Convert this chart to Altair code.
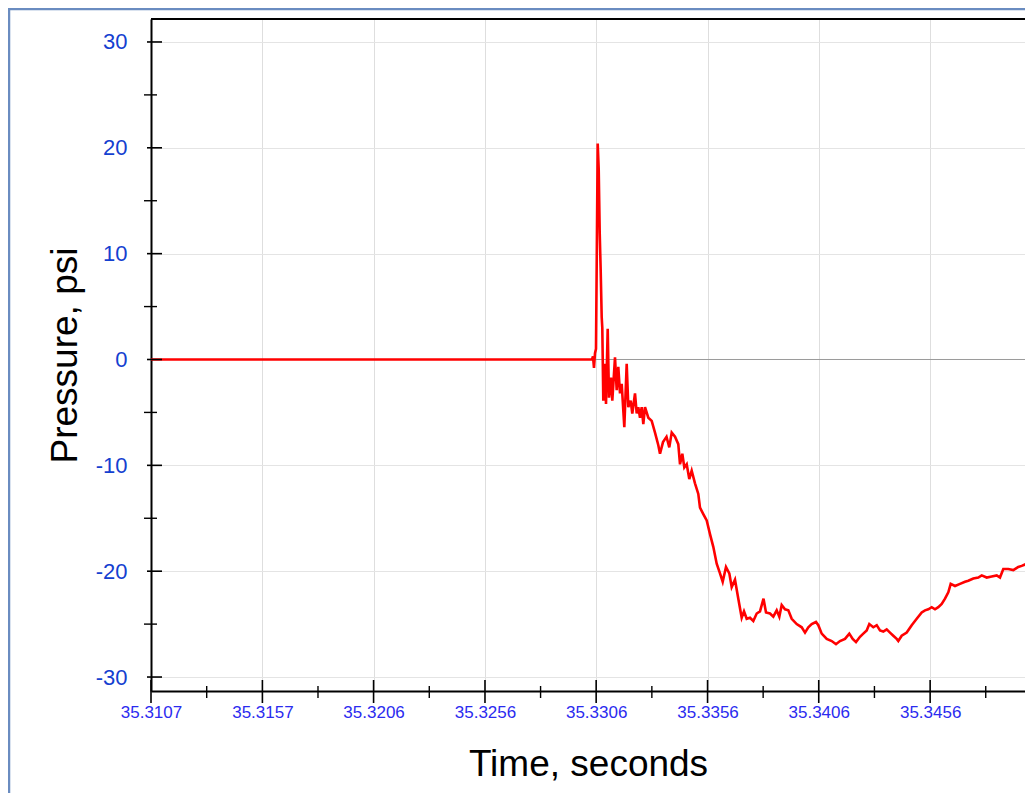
import altair as alt
import pandas as pd

# ---- data ----
time_s = [
    35.310670, 35.330424, 35.330468, 35.330513, 35.330558, 35.330603, 35.330679, 35.330724,
    35.330769, 35.330813, 35.330858, 35.330885, 35.330930, 35.331006, 35.331051, 35.331127,
    35.331185, 35.331275, 35.331333, 35.331454, 35.331530, 35.331602, 35.331678, 35.331754,
    35.331871, 35.331978, 35.332050, 35.332157, 35.332229, 35.332350, 35.332426, 35.332498,
    35.332574, 35.332650, 35.332722, 35.332798, 35.332946, 35.333098, 35.333246, 35.333394,
    35.333470, 35.333604, 35.333761, 35.333886, 35.333994, 35.334142, 35.334289, 35.334366,
    35.334469, 35.334559, 35.334666, 35.334782, 35.334889, 35.335037, 35.335185, 35.335261,
    35.335409, 35.335562, 35.335709, 35.335857, 35.336009, 35.336157, 35.336278, 35.336426,
    35.336574, 35.336681, 35.336829, 35.336977, 35.337129, 35.337232, 35.337353, 35.337501,
    35.337649, 35.337801, 35.337949, 35.338106, 35.338218, 35.338397, 35.338545, 35.338697,
    35.338814, 35.338921, 35.339069, 35.339217, 35.339369, 35.339593, 35.339817, 35.339965,
    35.340113, 35.340265, 35.340457, 35.340561, 35.340713, 35.340937, 35.341161, 35.341353,
    35.341532, 35.341756, 35.341949, 35.342101, 35.342249, 35.342428, 35.342576, 35.342728,
    35.342845, 35.343024, 35.343177, 35.343324, 35.343472, 35.343624, 35.343772, 35.343920,
    35.344072, 35.344144, 35.344296, 35.344520, 35.344744, 35.344968, 35.345192, 35.345340,
    35.345488, 35.345640, 35.345788, 35.345936, 35.346088, 35.346236, 35.346384, 35.346491,
    35.346684, 35.346908, 35.347132, 35.347279, 35.347503, 35.347727, 35.347880, 35.348104,
    35.348328, 35.348552, 35.348699, 35.348847, 35.349071, 35.349295, 35.349519, 35.349671,
    35.349895, 35.350119,
]
pressure_psi = [
    0.0, 0.0, 0.3, -0.8, 0.6, 1.0, 20.4, 18.0,
    12.0, 8.4, 4.0, 3.0, -3.9, -0.4, -4.2, 2.9,
    -3.6, -1.7, -3.9, 0.2, -2.9, -0.7, -3.2, -2.3,
    -6.4, -0.4, -4.5, -3.9, -5.1, -3.2, -5.1, -4.5,
    -5.5, -4.5, -6.1, -4.5, -5.5, -5.8, -6.9, -8.1,
    -8.9, -7.8, -7.3, -8.3, -6.9, -7.3, -8.0, -9.9,
    -8.9, -10.2, -9.9, -11.3, -10.5, -11.7, -12.7, -14.0,
    -14.6, -15.2, -16.5, -17.7, -19.3, -20.2, -21.0, -19.6,
    -20.2, -21.5, -20.8, -22.6, -24.4, -23.8, -24.5, -24.4,
    -24.7, -24.0, -23.8, -22.6, -23.9, -24.0, -24.3, -23.7,
    -24.3, -23.2, -23.6, -23.7, -24.5, -25.0, -25.3, -25.8,
    -25.3, -25.0, -24.8, -25.1, -25.9, -26.4, -26.6, -26.9,
    -26.6, -26.4, -25.9, -26.4, -26.7, -26.2, -25.9, -25.6,
    -25.0, -25.3, -25.1, -25.6, -25.7, -25.5, -25.8, -26.1,
    -26.4, -26.6, -26.1, -25.8, -25.1, -24.5, -23.9, -23.7,
    -23.6, -23.4, -23.6, -23.4, -23.1, -22.6, -22.0, -21.2,
    -21.4, -21.2, -21.0, -20.9, -20.7, -20.6, -20.4, -20.6,
    -20.5, -20.4, -20.6, -19.8, -19.8, -19.9, -19.6, -19.5,
    -19.3, -18.8,
]
x_major_ticks = [35.31067, 35.31566, 35.32064, 35.32563, 35.33061, 35.33560, 35.34058, 35.34557]
x_minor_ticks = [35.313165, 35.31815, 35.323135, 35.32812, 35.333105, 35.33809, 35.343075, 35.34806]
y_major_ticks = [-30, -20, -10, 0, 10, 20, 30]
y_minor_ticks = [-25, -15, -5, 5, 15, 25]

W, H = 874, 672
FONT = "Liberation Sans"

df = pd.DataFrame({"t": time_s, "p": pressure_psi})

X = alt.X(
    "t:Q",
    scale=alt.Scale(domain=[35.31067, 35.349819], nice=False, zero=False),
    axis=alt.Axis(
        values=x_major_ticks, format=".4f", title="Time, seconds",
        labelFont=FONT, labelFontSize=17, labelColor="#2b2bef",
        labelPadding=13, labelOverlap=False, labelFlush=False, labelBound=False,
        ticks=False, tickSize=0,
        domainColor="black", domainWidth=2,
        grid=True, gridColor="#dedede", gridWidth=1,
        titleFont=FONT, titleFontSize=37, titleFontWeight="normal",
        titleColor="black", titlePadding=26,
    ),
)
Y = alt.Y(
    "p:Q",
    scale=alt.Scale(domain=[-31.32, 32.17], nice=False, zero=False),
    axis=alt.Axis(
        values=y_major_ticks, title="Pressure, psi",
        labelExpr="datum.value + ''",
        labelFont=FONT, labelFontSize=22, labelColor="#1440d0",
        labelPadding=24, labelOverlap=False, labelBound=False,
        ticks=False, tickSize=0,
        domainColor="black", domainWidth=2,
        grid=True, gridColor="#e4e4e4", gridWidth=1,
        titleFont=FONT, titleFontSize=37, titleFontWeight="normal",
        titleColor="black", titlePadding=11,
    ),
)

zero_line = alt.Chart(pd.DataFrame({"p": [0]})).mark_rule(
    color="#9a9a9a", strokeWidth=1
).encode(y=Y)

trace = alt.Chart(df).mark_line(
    color="#ff0000", strokeWidth=2.6, clip=True
).encode(x=X, y=Y)

xmaj = alt.Chart(pd.DataFrame({"t": x_major_ticks})).mark_rule(
    color="black", strokeWidth=1.6
).encode(x=X, y=alt.value(H - 11), y2=alt.value(H + 12))

xmin = alt.Chart(pd.DataFrame({"t": x_minor_ticks})).mark_rule(
    color="black", strokeWidth=1.4
).encode(x=X, y=alt.value(H - 5), y2=alt.value(H + 7))

ymaj = alt.Chart(pd.DataFrame({"p": y_major_ticks})).mark_rule(
    color="black", strokeWidth=1.6
).encode(y=Y, x=alt.value(-4), x2=alt.value(11))

ymin = alt.Chart(pd.DataFrame({"p": y_minor_ticks})).mark_rule(
    color="black", strokeWidth=1.4
).encode(y=Y, x=alt.value(-7), x2=alt.value(6))

top_frame = alt.Chart(pd.DataFrame({"k": [0]})).mark_rule(
    color="black", strokeWidth=2
).encode(x=alt.value(0), x2=alt.value(W), y=alt.value(0))

# outer figure frame (blue-grey), left and top edges
frame_left = alt.Chart(pd.DataFrame({"k": [0]})).mark_rule(
    color="#6a8cc0", strokeWidth=2.5
).encode(x=alt.value(-142), y=alt.value(-11), y2=alt.value(H + 102))
frame_top = alt.Chart(pd.DataFrame({"k": [0]})).mark_rule(
    color="#6a8cc0", strokeWidth=2.5
).encode(x=alt.value(-143), x2=alt.value(W), y=alt.value(-10))

chart = alt.layer(
    zero_line, trace, xmaj, xmin, ymaj, ymin, top_frame, frame_left, frame_top
).properties(
    width=W, height=H,
    autosize=alt.AutoSizeParams(type="none"),
    padding={"left": 143, "top": 11, "right": 0, "bottom": 102},
    background="white",
).configure_view(stroke=None)

chart.save("out.html", embed_options={"renderer": "svg", "actions": False})
